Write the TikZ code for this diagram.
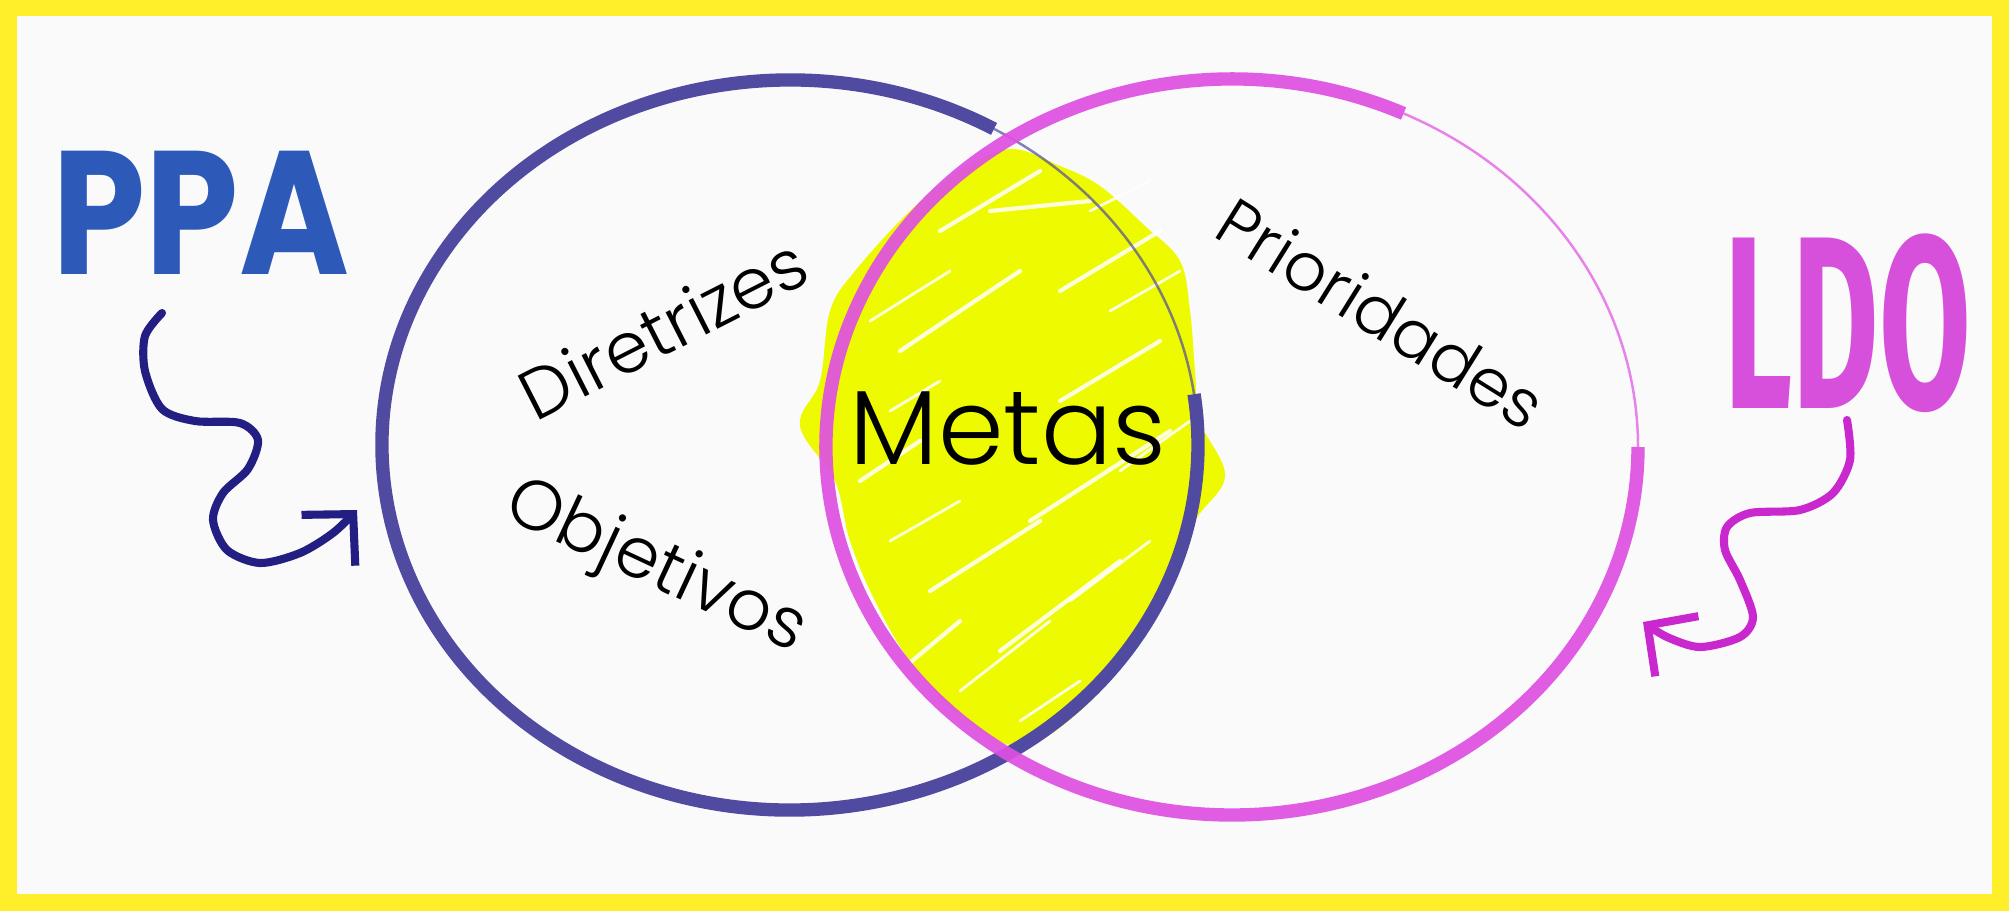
\documentclass[tikz,border=0pt]{standalone}
\usepackage{fontspec}
\setmainfont{Poppins}
\newfontfamily\handfont{Poppins}[UprightFont=* Light]
\newfontfamily\blockfont{Fira Sans}
\usetikzlibrary{arrows.meta,calc}
\definecolor{frameyellow}{RGB}{255,238,42}
\definecolor{paper}{RGB}{250,250,250}
\definecolor{ppaline}{RGB}{80,75,160}
\definecolor{ldoline}{RGB}{222,80,226}
\definecolor{ppatext}{RGB}{45,90,185}
\definecolor{ldotext}{RGB}{215,80,220}
\definecolor{ppaarrow}{RGB}{35,30,130}
\definecolor{ldoarrow}{RGB}{200,40,205}
\definecolor{scribble}{RGB}{238,250,0}

\begin{document}
\begin{tikzpicture}[ring/.style={line width=3.8pt},faint/.style={line width=0.7pt,opacity=0.7},wavy/.style={line width=2.3pt,line cap=round,line join=round,-{Straight Barb[length=3.6mm,width=7.4mm]}},word/.style={font=\handfont\fontsize{20}{20}\selectfont},streak/.style={white,line width=1.2pt,line cap=round,opacity=0.85}]
\useasboundingbox (0,0) rectangle (20.09,9.11);
\fill[frameyellow] (0,0) rectangle (20.09,9.11); \fill[paper] (0.17,0.17) rectangle (19.92,8.95);
\coordinate (ppac) at (7.90,4.66); \coordinate (ldoc) at (12.32,4.64);
% scribbled overlap
\fill[scribble] plot[smooth cycle,tension=0.6] coordinates {(10.1,7.62) (10.6,7.45) (11.0,7.25) (11.45,6.85) (11.8,6.5) (11.9,6.0) (11.95,5.4) (12.0,4.9) (12.25,4.35) (11.95,3.9) (11.7,3.3) (11.3,2.6) (10.8,2.0) (10.2,1.65) (9.6,1.95) (9.1,2.5) (8.75,3.1) (8.5,3.7) (8.35,4.3) (8.0,4.85) (8.2,5.3) (8.3,6.0) (8.55,6.4) (9.1,7.0) (9.6,7.4)};
\draw[streak] (9.0,5.6)--(10.2,6.4) (9.4,6.8)--(10.4,7.4) (10.6,6.2)--(11.6,6.8) (8.6,4.3)--(9.2,4.7) (10.3,3.9)--(11.7,4.8) (9.3,3.2)--(10.4,3.9) (10.0,2.6)--(11.2,3.5) (9.0,2.4)--(9.6,2.9) (10.6,5.1)--(11.6,5.7) (9.9,7.0)--(10.9,7.1);
\draw[streak,line width=0.8pt] (8.7,5.9)--(9.5,6.4) (10.9,7.0)--(11.5,7.3) (11.1,6.0)--(11.8,6.4) (8.9,3.7)--(9.6,4.1) (9.6,2.2)--(10.5,2.9) (10.7,3.1)--(11.5,3.7) (11.2,4.4)--(11.9,4.9) (8.9,5.0)--(9.4,5.3) (10.2,1.9)--(10.8,2.3);
% the two sets
\draw[ring,ppaline] ($(ppac)+(60:4.08 and 3.65)$) arc[start angle=60,end angle=368,x radius=4.08,y radius=3.65];
\draw[faint,ppaline] ($(ppac)+(8:4.08 and 3.65)$) arc[start angle=8,end angle=60,x radius=4.08,y radius=3.65];
\draw[ring,ldoline,opacity=0.92] ($(ldoc)+(65:4.06 and 3.68)$) arc[start angle=65,end angle=360,x radius=4.06,y radius=3.68];
\draw[faint,ldoline] ($(ldoc)+(0:4.06 and 3.68)$) arc[start angle=0,end angle=65,x radius=4.06,y radius=3.68];
% titles
\node[ppatext,font=\fontsize{50}{50}\bfseries,xscale=0.85] (ppa) at (2.01,6.98) {PPA};
\node[ldotext,font=\blockfont\fontsize{70}{70}\bfseries,xscale=0.54] (ldo) at (18.48,5.88) {LDO};
\node[word,rotate=27] (diretrizes) at (6.63,5.83) {Diretrizes};
\node[word,rotate=-25] (objetivos) at (6.55,3.42) {Objetivos};
\node[word,font=\handfont\fontsize{19}{19}\selectfont,rotate=-32] (prioridades) at (13.82,5.98) {Prioridades};
\node[font=\handfont\fontsize{30}{30}\selectfont] (metas) at (10.08,4.82) {Metas};
% arrows into the sets
\coordinate (ppatail) at (1.62,5.98); \coordinate (ppahead) at (3.57,4.01);
\coordinate (ldotail) at (18.47,4.91); \coordinate (ldohead) at (16.43,2.89);
\draw[wavy,ppaarrow] plot[smooth] coordinates {(ppatail) (1.45,5.75) (1.45,5.40) (1.62,5.02) (1.95,4.90) (2.40,4.88) (2.58,4.71) (2.48,4.42) (2.23,4.18) (2.13,3.91) (2.27,3.61) (2.60,3.48) (3.00,3.58) (3.33,3.78) (ppahead)};
\draw[wavy,ldoarrow] plot[smooth] coordinates {(ldotail) (18.50,4.51) (18.33,4.18) (18.00,4.01) (17.50,3.98) (17.27,3.84) (17.25,3.61) (17.40,3.31) (17.53,2.94) (17.40,2.74) (17.00,2.64) (16.67,2.74) (ldohead)};
\end{tikzpicture}
\end{document}
